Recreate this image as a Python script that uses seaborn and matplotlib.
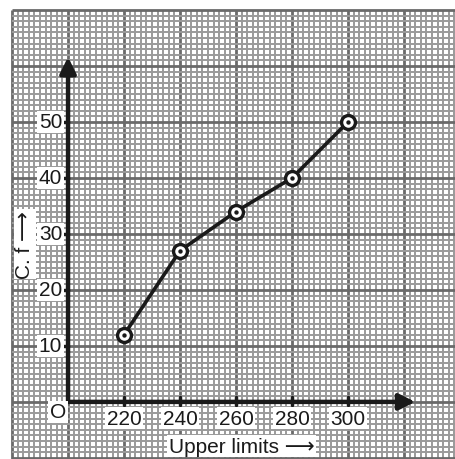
import numpy as np
import matplotlib
matplotlib.use("Agg")
import matplotlib.pyplot as plt
import seaborn as sns
import pandas as pd

upper_limits = [220, 240, 260, 280, 300]
cum_freq = [12, 27, 34, 40, 50]
x_ticks = [220, 240, 260, 280, 300]
y_ticks = [10, 20, 30, 40, 50]

sns.set_style("white")
plt.rcParams["font.family"] = ["Liberation Sans", "DejaVu Sans"]

fig = plt.figure(figsize=(4.55, 4.6), dpi=100)
ax = fig.add_axes([0, 0, 1, 1])

# graph paper
gx0, gx1 = 180, 340
gy0, gy1 = -11, 70
for v in np.arange(gx0, gx1 + 1, 2):
    major = (v - 200) % 20 == 0
    ax.vlines(v, gy0, gy1, color="#6a6a6a" if major else "#9a9a9a",
              lw=2.0 if major else 1.4, zorder=1)
for h in np.arange(gy0 + 1, gy1 + 1, 1):
    major = h % 10 == 0
    ax.hlines(h, gx0, gx1, color="#6a6a6a" if major else "#9a9a9a",
              lw=2.0 if major else 1.4, zorder=1)

# axes with arrows
arrow = dict(arrowstyle="-|>", lw=3.2, color="#1a1a1a", mutation_scale=24,
             shrinkA=0, shrinkB=0)
ax.annotate("", xy=(324, 0), xytext=(200, 0), arrowprops=arrow, zorder=3)
ax.annotate("", xy=(200, 61.6), xytext=(200, 0), arrowprops=arrow, zorder=3)

# ticks and labels
box = dict(facecolor="white", edgecolor="none", pad=1)
for t in x_ticks:
    ax.plot([t, t], [-0.6, 0.8], color="#1a1a1a", lw=2.5, zorder=3)
    ax.text(t, -2.9, str(t), ha="center", va="center", fontsize=15,
            color="#1a1a1a", bbox=box, zorder=4)
for t in y_ticks:
    ax.plot([198.4, 200], [t, t], color="#1a1a1a", lw=2.5, zorder=3)
    ax.text(197.9, t, str(t), ha="right", va="center", fontsize=15,
            color="#1a1a1a", bbox=box, zorder=4)
ax.text(196.4, -1.8, "O", ha="center", va="center", fontsize=15,
        color="#1a1a1a", bbox=box, zorder=4)

ax.text(262, -7.9, "Upper limits \u27f6", ha="center", va="center", fontsize=15,
        color="#1a1a1a", bbox=box, zorder=4)
ax.text(184.6, 28.2, "C. f \u27f6", ha="center", va="center", fontsize=15,
        rotation=90, color="#1a1a1a", bbox=box, zorder=4)

# ogive
df = pd.DataFrame({"upper": upper_limits, "cf": cum_freq})
sns.lineplot(data=df, x="upper", y="cf", ax=ax, color="#1a1a1a", lw=2.6,
             marker="o", markersize=10, markerfacecolor="white",
             markeredgecolor="#1a1a1a", markeredgewidth=2.4, zorder=5)
sns.scatterplot(data=df, x="upper", y="cf", ax=ax, color="#1a1a1a", s=10,
                linewidth=0, zorder=6)
ax.set_xlim(175.7, 338.2)
ax.set_ylim(-10.2, 71.96)
ax.axis("off")

fig.savefig("out.png", dpi=100, facecolor="white")
